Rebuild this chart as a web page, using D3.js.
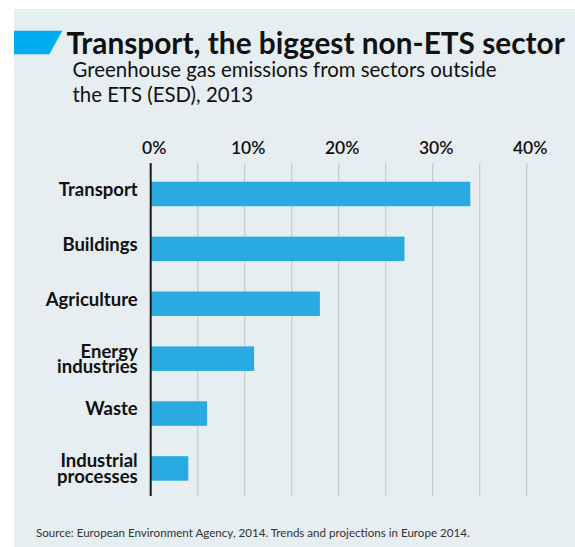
<!DOCTYPE html>
<html>
<head>
<meta charset="utf-8">
<script src="https://cdn.jsdelivr.net/npm/d3@7"></script>
<style>
  body { margin: 0; background: #fff; }
  svg { display: block; font-family: Lato, "Noto Sans", sans-serif; }
</style>
</head>
<body>
<div id="chart"></div>
<script>
const sectors = ['Transport', 'Buildings', 'Agriculture', 'Energy industries', 'Waste', 'Industrial processes']
const shares = [34, 27, 18, 11, 6, 4]
const tickValues = [0, 10, 20, 30, 40]
const gridValues = [0, 5, 10, 15, 20, 25, 30, 35, 40]

const title = 'Transport, the biggest non-ETS sector'
const subtitle = ['Greenhouse gas emissions from sectors outside', 'the ETS (ESD), 2013']
const source = 'Source: European Environment Agency, 2014. Trends and projections in Europe 2014.'

const width = 575
const height = 547
const chart = {left: 150.7, right: 526.7, top: 163, bottom: 496}

const svg = d3.select('#chart').append('svg')
  .attr('width', width)
  .attr('height', height)

// panel
svg.append('rect')
  .attr('x', 14).attr('y', 9)
  .attr('width', width - 14).attr('height', height - 9)
  .attr('fill', '#e6eef1')

// title flag
svg.append('polygon')
  .attr('points', '14,30.7 62.3,30.7 49.3,54.3 14,54.3')
  .attr('fill', '#00aeef')

svg.append('text')
  .attr('x', 66.5).attr('y', 53.5)
  .attr('font-size', 29.8).attr('font-weight', 700)
  .attr('fill', '#111')
  .text(title)

svg.append('text')
  .attr('x', 72.5).attr('y', 77)
  .attr('font-size', 20.4)
  .attr('fill', '#111')
  .selectAll('tspan')
  .data(subtitle)
  .enter()
    .append('tspan')
    .attr('x', 72.5)
    .attr('dy', (d, i) => i === 0 ? 0 : 25)
    .text(d => d)

const x = d3.scaleLinear()
  .domain([0, 40])
  .range([chart.left, chart.right])

const y = d3.scaleBand()
  .domain(sectors)
  .range([chart.top, chart.bottom])
  .paddingInner(0.553)
  .paddingOuter(0.31)
  .align(0.55)

// grid
svg.append('g')
  .selectAll('line')
  .data(gridValues.filter(d => d > 0))
  .enter()
    .append('line')
    .attr('x1', d => x(d)).attr('x2', d => x(d))
    .attr('y1', chart.top).attr('y2', chart.bottom)
    .attr('stroke', '#c5cbcf')
    .attr('stroke-width', 1.2)

// top axis labels
const xAxis = svg.append('g')
  .attr('transform', `translate(0, ${chart.top})`)
  .call(d3.axisTop(x).tickValues(tickValues).tickFormat(d => d + '%').tickSize(0).tickPadding(9))
xAxis.select('.domain').remove()
xAxis.selectAll('text')
  .attr('dx', 3)
  .attr('font-family', 'Lato, "Noto Sans", sans-serif')
  .attr('font-size', 17.5)
  .attr('font-weight', 600)
  .attr('fill', '#111')

// bars
svg.append('g')
  .selectAll('rect')
  .data(sectors.map((s, i) => ({sector: s, v: shares[i]})))
  .enter()
    .append('rect')
    .attr('x', x(0))
    .attr('y', d => y(d.sector))
    .attr('width', d => x(d.v) - x(0))
    .attr('height', y.bandwidth())
    .attr('fill', '#29abe2')

// zero line
svg.append('line')
  .attr('x1', x(0)).attr('x2', x(0))
  .attr('y1', chart.top).attr('y2', chart.bottom)
  .attr('stroke', '#1a1a1a')
  .attr('stroke-width', 2)

// category labels, wrapped onto two lines where the source does
const yAxis = svg.append('g')
  .attr('transform', `translate(${x(0)}, 0)`)
  .call(d3.axisLeft(y).tickSize(0).tickPadding(13))
yAxis.select('.domain').remove()
yAxis.selectAll('text')
  .attr('font-family', 'Lato, "Noto Sans", sans-serif')
  .attr('font-size', 18.5)
  .attr('font-weight', 700)
  .attr('fill', '#111')
  .each(function(d) {
    const words = d.split(' ')
    if (words.length < 2) {
      d3.select(this).attr('dy', '0.1em')
      return
    }
    const t = d3.select(this).text(null).attr('dy', null)
    words.forEach((w, i) => {
      t.append('tspan')
        .attr('x', -13)
        .attr('dy', i === 0 ? '-0.06em' : '0.86em')
        .text(w)
    })
  })

svg.append('text')
  .attr('x', 36).attr('y', 537.3)
  .attr('font-size', 11.6)
  .attr('fill', '#333')
  .text(source)
</script>
</body>
</html>
